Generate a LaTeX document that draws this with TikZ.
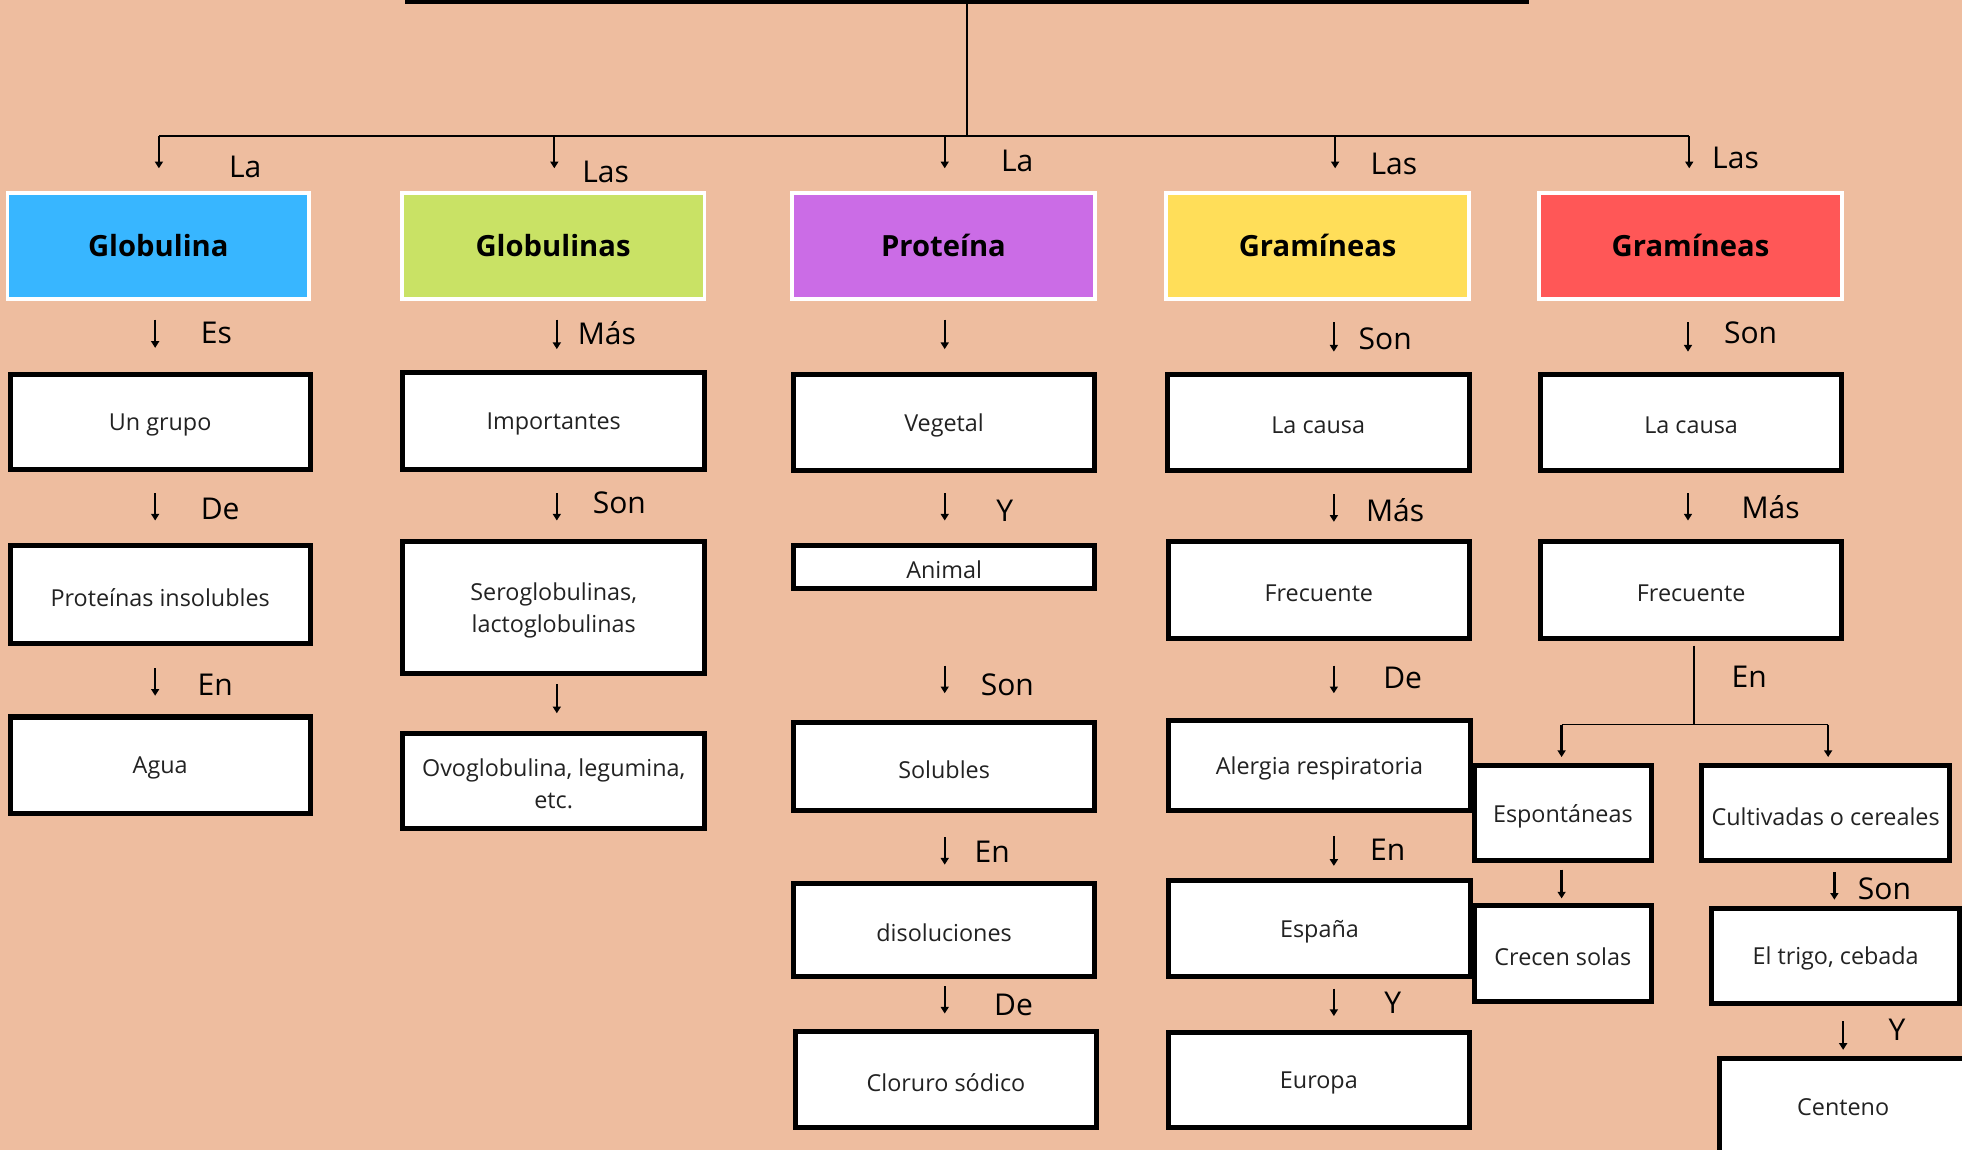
\documentclass[tikz,border=0pt]{standalone}
\usepackage{fontspec}
\setmainfont{Open Sans}
\usetikzlibrary{arrows.meta,fit}

\definecolor{bg}{HTML}{EEBD9F}
\definecolor{topc}{HTML}{35355A}
\definecolor{cblue}{HTML}{38B6FF}
\definecolor{cgreen}{HTML}{C9E265}
\definecolor{cviolet}{HTML}{CB6CE6}
\definecolor{cyellow}{HTML}{FFDE59}
\definecolor{cred}{HTML}{FF5757}
\definecolor{txt}{HTML}{222222}

% short arrow between two stacked boxes, on the vertical line through #3
\newcommand\flowarrow[5]{\draw[arr, shorten <=#4pt, shorten >=#5pt] (#1.south -| #3) -- (#2.north -| #3);}
% white box spanning two corners, with its text centred
\newcommand\wnode[3]{\node[wbox, fit={#2}] (#1) {}; \node[boxtxt] at ([yshift=-1.4pt]#1.center) {#3};}
% coloured heading box
\newcommand\tnode[4]{\node[tbox, fill=#2, fit={#3}] (#1) {}; \node[headtxt] at (#1.center) {#4};}

\begin{document}
\begin{tikzpicture}[x=0.6pt,y=-0.6pt,
  wbox/.style={draw=black, line width=2.4pt, fill=white, inner sep=0pt},
  boxtxt/.style={align=center, inner sep=0pt, font=\fontsize{11.2}{15.6}\selectfont, text=txt},
  tbox/.style={draw=white, line width=1.8pt, inner sep=0pt},
  headtxt/.style={inner sep=0pt, font=\bfseries\fontsize{14}{16}\selectfont},
  lbl/.style={font=\fontsize{14.4}{16}\selectfont, inner sep=0pt},
  arr/.style={-{Triangle[width=3.8pt,length=3.2pt]}, line width=1.1pt},
  tree/.style={line width=0.9pt},
]
\useasboundingbox (0,0) rectangle (1568,919);
\fill[bg] (0,0) rectangle (1568,919);

% heading box, mostly above the sheet
\node[draw=black, line width=2.4pt, fill=topc, inner sep=0pt, fit={(326,-60)(1220,1.5)}] (top) {};

% branch points
\coordinate (hub) at (773,109);
\coordinate (j1) at (127,109);
\coordinate (j2) at (443,109);
\coordinate (j3) at (755,109);
\coordinate (j4) at (1067,109);
\coordinate (j5) at (1350,109);

% column axes for the short arrows
\coordinate (x1) at (124,0);
\coordinate (x2) at (445,0);
\coordinate (x3) at (755,0);
\coordinate (x4) at (1066,0);
\coordinate (x5) at (1349,0);
\coordinate (x6) at (1248,0);
\coordinate (x7) at (1466,0);
\coordinate (x8) at (1473,0);

% coloured headings
\tnode{t1}{cblue}{(6,154)(247,239)}{Globulina}
\tnode{t2}{cgreen}{(321,154)(563,239)}{Globulinas}
\tnode{t3}{cviolet}{(633,154)(875,239)}{Proteína}
\tnode{t4}{cyellow}{(932,154)(1174,239)}{Gramíneas}
\tnode{t5}{cred}{(1230,154)(1472,239)}{Gramíneas}

% column 1
\wnode{a1}{(8,299)(248,375)}{Un grupo}
\wnode{a2}{(8,436)(248,514)}{Proteínas insolubles}
\wnode{a3}{(8,573)(248,650)}{Agua}

% column 2
\wnode{b1}{(322,298)(563,375)}{Importantes}
\wnode{b2}{(322,433)(563,538)}{Seroglobulinas,\\lactoglobulinas}
\wnode{b3}{(322,586)(563,662)}{Ovoglobulina, legumina,\\etc.}

% column 3
\wnode{c1}{(634,299)(875,376)}{Vegetal}
\wnode{c2}{(634,436)(875,470)}{Animal}
\wnode{c3}{(634,577)(875,648)}{Solubles}
\wnode{c4}{(634,706)(875,780)}{disoluciones}
\wnode{c5}{(636,824)(876,901)}{Cloruro sódico}

% column 4
\wnode{d1}{(933,299)(1174,376)}{La causa}
\wnode{d2}{(934,433)(1174,510)}{Frecuente}
\wnode{d3}{(934,576)(1175,648)}{Alergia respiratoria}
\wnode{d4}{(934,704)(1175,780)}{España}
\wnode{d5}{(934,825)(1174,901)}{Europa}

% column 5
\wnode{e1}{(1231,299)(1472,376)}{La causa}
\wnode{e2}{(1231,433)(1472,510)}{Frecuente}
\wnode{f1}{(1178,612)(1320,688)}{Espontáneas}
\wnode{f2}{(1178,724)(1320,800)}{Crecen solas}
\wnode{g1}{(1360,612)(1558,688)}{Cultivadas o cereales}
\wnode{g2}{(1368,726)(1566,802)}{El trigo, cebada}
\node[wbox, fit={(1374,846)(1620,990)}] (g3) {};
\node[boxtxt] (g3t) at (1473,885) {Centeno};

% tree from the heading box
\draw[tree] (top.south) -- (hub);
\draw[tree] (j1) -- (j5);
\foreach \j/\t in {j1/t1,j2/t2,j3/t3,j4/t4,j5/t5}
  \draw[arr, shorten >=10.8pt] (\j) -- (\j |- \t.north);

% tree labels
\node[lbl] (l1) at (196,133) {La};
\node[lbl] (l2) at (484,137) {Las};
\node[lbl] (l3) at (813,129) {La};
\node[lbl] (l4) at (1114,131) {Las};
\node[lbl] (l5) at (1387,126) {Las};

% column 1 arrows
\flowarrow{t1}{a1}{x1}{9}{11.4}
\flowarrow{a1}{a2}{x1}{10.2}{10.8}
\flowarrow{a2}{a3}{x1}{10.8}{9}
\node[lbl] at (173,266) {Es};
\node[lbl] at (176,407) {De};
\node[lbl] at (172,547) {En};

% column 2 arrows
\flowarrow{t2}{b1}{x2}{9}{10.2}
\flowarrow{b1}{b2}{x2}{10.2}{9}
\flowarrow{b2}{b3}{x2}{4.2}{8.4}
\node[lbl] at (485,266) {Más};
\node[lbl] at (495,402) {Son};

% column 3 arrows
\flowarrow{t3}{c1}{x3}{9}{10.8}
\flowarrow{c1}{c2}{x3}{9.6}{10.8}
\flowarrow{c2}{c3}{x3}{36}{12.6}
\flowarrow{c3}{c4}{x3}{11.4}{7.8}
\flowarrow{c4}{c5}{x3}{3.6}{7.2}
\node[lbl] at (803,408) {Y};
\node[lbl] at (805,547) {Son};
\node[lbl] at (793,681) {En};
\node[lbl] at (810,803) {De};

% column 4 arrows
\flowarrow{t4}{d1}{x4}{10.2}{9.6}
\flowarrow{d1}{d2}{x4}{10.2}{8.4}
\flowarrow{d2}{d3}{x4}{12}{12}
\flowarrow{d3}{d4}{x4}{10.8}{6}
\flowarrow{d4}{d5}{x4}{4.8}{6.6}
\node[lbl] at (1107,271) {Son};
\node[lbl] at (1115,408) {Más};
\node[lbl] at (1121,542) {De};
\node[lbl] at (1109,679) {En};
\node[lbl] at (1113,801) {Y};

% column 5 arrows
\flowarrow{t5}{e1}{x5}{10.2}{9.6}
\flowarrow{e1}{e2}{x5}{9.6}{9}
\coordinate (sp) at (1354,579);
\coordinate (sl) at (1248,579);
\coordinate (sr) at (1461,579);
\draw[tree, shorten <=2.4pt] (e2.south -| sp) -- (sp);
\draw[tree] (sl) -- (sr);
\draw[arr, shorten >=3pt] (sl) -- (sl |- f1.north);
\draw[arr, shorten >=3pt] (sr) -- (sr |- g1.north);
\flowarrow{f1}{f2}{x6}{3}{2.4}
\flowarrow{g1}{g2}{x7}{4.2}{3}
\flowarrow{g2}{g3}{x8}{7.2}{3}
\node[lbl] at (1399,266) {Son};
\node[lbl] at (1415,405) {Más};
\node[lbl] at (1398,541) {En};
\node[lbl] at (1506,710) {Son};
\node[lbl] at (1516,823) {Y};
\end{tikzpicture}
\end{document}
